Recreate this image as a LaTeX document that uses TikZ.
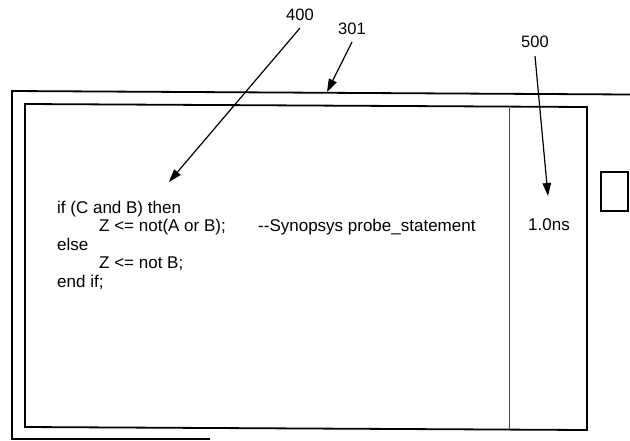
\documentclass[tikz,border=0pt]{standalone}
\usepackage{fontspec}
\setmainfont{Liberation Sans}
\usetikzlibrary{arrows.meta}
\begin{document}
\begin{tikzpicture}[x=1pt,y=-1pt,
  frame/.style={line width=1.8pt,black},
  divider/.style={line width=1.1pt,black!70},
  arr/.style={line width=1.2pt,-{Triangle[length=13pt,width=8.5pt]}},
  codetext/.style={font=\fontsize{17pt}{20pt}\selectfont,anchor=base west,inner sep=0pt},
  reftext/.style={font=\fontsize{16.5pt}{20pt}\selectfont,inner sep=0pt}]
\useasboundingbox (0,0) rectangle (630,440);
% outer frame 301
\draw[frame] (630,94.5) -- (12,91) -- (12,439) -- (210,439);
% inner frame
\draw[frame] (25,104) -- (587,107) -- (587,430) -- (25,427) -- cycle;
% divider
\draw[divider] (509.5,106) -- (509.5,429);
% small box
\draw[line width=1.6pt] (601,172) rectangle (628,211);
% code text
\node[codetext] (c1) at (57,213) {if (C and B) then};
\node[codetext] (c2) at (99,231.5) {Z <= not(A or B);};
\node[codetext] (cm) at (258,231.5) {{-}{-}Synopsys probe\_statement};
\node[codetext] (c3) at (57,250) {else};
\node[codetext] (c4) at (99,268.5) {Z <= not B;};
\node[codetext] (c5) at (57,287) {end if;};
\node[codetext] (tns) at (528,230) {1.0ns};
% reference labels
\node[reftext] (l400) at (300,15) {400};
\node[reftext] (l301) at (352,29) {301};
\node[reftext] (l500) at (535,42) {500};
\coordinate (t400) at (169,182);
\coordinate (t301) at (327,92);
\coordinate (t500) at (548,196);
\draw[arr] ([yshift=-7pt]l400.south) -- (t400);
\draw[arr] ([yshift=-7pt]l301.south) -- (t301);
\draw[arr] ([yshift=-8pt]l500.south) -- (t500);
\end{tikzpicture}
\end{document}
